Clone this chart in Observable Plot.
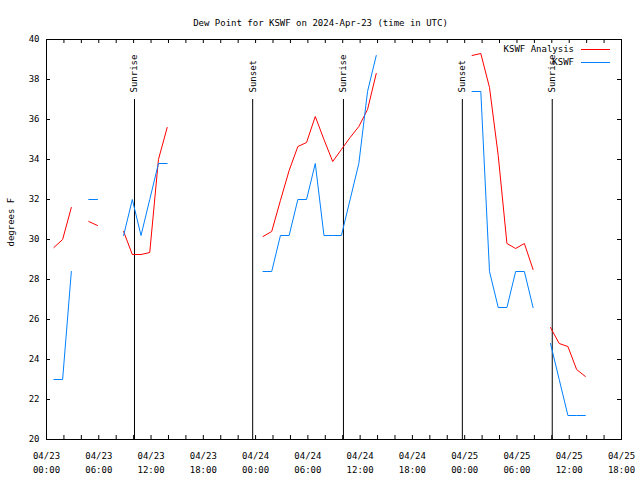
<!DOCTYPE html>
<html><head><meta charset="utf-8">
<script src="https://cdn.jsdelivr.net/npm/d3@7"></script>
<script src="https://cdn.jsdelivr.net/npm/@observablehq/plot@0.6"></script>
<style>
body{margin:0;background:#fff;}
#wrap{position:relative;width:640px;height:480px;font-family:"DejaVu Sans Mono",monospace;font-size:9px;color:#000;}
.legtext{position:absolute;right:66px;height:13px;line-height:13px;white-space:pre;}
.legline{position:absolute;left:581px;width:29px;height:0;}
</style></head><body><div id="wrap"></div>
<script>
const title = "Dew Point for KSWF on 2024-Apr-23 (time in UTC)";
const yLabel = "degrees F";
const seriesNames = ["KSWF Analysis", "KSWF"];
const seriesColors = ["#ff0000", "#0080ff"];

const obsTimes = [
 "2024-04-23T00:51Z","2024-04-23T01:51Z","2024-04-23T02:51Z","2024-04-23T03:51Z","2024-04-23T04:51Z","2024-04-23T05:51Z",
 "2024-04-23T06:51Z","2024-04-23T07:51Z","2024-04-23T08:51Z","2024-04-23T09:51Z","2024-04-23T10:51Z","2024-04-23T11:51Z",
 "2024-04-23T12:51Z","2024-04-23T13:51Z","2024-04-23T14:51Z","2024-04-23T15:51Z","2024-04-23T16:51Z","2024-04-23T17:51Z",
 "2024-04-23T18:51Z","2024-04-23T19:51Z","2024-04-23T20:51Z","2024-04-23T21:51Z","2024-04-23T22:51Z","2024-04-23T23:51Z",
 "2024-04-24T00:51Z","2024-04-24T01:51Z","2024-04-24T02:51Z","2024-04-24T03:51Z","2024-04-24T04:51Z","2024-04-24T05:51Z",
 "2024-04-24T06:51Z","2024-04-24T07:51Z","2024-04-24T08:51Z","2024-04-24T09:51Z","2024-04-24T10:51Z","2024-04-24T11:51Z",
 "2024-04-24T12:51Z","2024-04-24T13:51Z","2024-04-24T14:51Z","2024-04-24T15:51Z","2024-04-24T16:51Z","2024-04-24T17:51Z",
 "2024-04-24T18:51Z","2024-04-24T19:51Z","2024-04-24T20:51Z","2024-04-24T21:51Z","2024-04-24T22:51Z","2024-04-24T23:51Z",
 "2024-04-25T00:51Z","2024-04-25T01:51Z","2024-04-25T02:51Z","2024-04-25T03:51Z","2024-04-25T04:51Z","2024-04-25T05:51Z",
 "2024-04-25T06:51Z","2024-04-25T07:51Z","2024-04-25T08:51Z","2024-04-25T09:51Z","2024-04-25T10:51Z","2024-04-25T11:51Z",
 "2024-04-25T12:51Z","2024-04-25T13:51Z"
];
const analysis = [
 29.6, 30.0, 31.6, null, 30.9, 30.7, null, null, 30.4, 29.25, 29.25, 29.35,
 34.0, 35.6, null, null, null, null, null, null, null, null, null, null,
 30.15, 30.4, 31.95, 33.45, 34.65, 34.85, 36.15, 35.0, 33.9, 34.5, 35.1, 35.65,
 36.5, 38.3, null, null, null, null, null, null, null, null, null, null,
 39.2, 39.3, 37.6, 34.2, 29.8, 29.55, 29.8, 28.5, null, 25.6, 24.8, 24.65,
 23.5, 23.15
];
const observed = [
 23.0, 23.0, 28.4, null, 32.0, 32.0, null, null, 30.2, 32.0, 30.2, 32.0,
 33.8, 33.8, null, null, null, null, null, null, null, null, null, null,
 28.4, 28.4, 30.2, 30.2, 32.0, 32.0, 33.8, 30.2, 30.2, 30.2, 32.0, 33.8,
 37.4, 39.2, null, null, null, null, null, null, null, null, null, null,
 37.4, 37.4, 28.4, 26.6, 26.6, 28.4, 28.4, 26.6, null, 24.8, 23.0, 21.2,
 21.2, 21.2
];
const sunTimes = ["2024-04-23T10:06Z","2024-04-23T23:40Z","2024-04-24T10:05Z","2024-04-24T23:44Z","2024-04-25T10:03Z"];
const sunLabels = ["Sunrise","Sunset","Sunrise","Sunset","Sunrise"];
const xTickTimes = ["2024-04-23T00:00Z","2024-04-23T06:00Z","2024-04-23T12:00Z","2024-04-23T18:00Z",
 "2024-04-24T00:00Z","2024-04-24T06:00Z","2024-04-24T12:00Z","2024-04-24T18:00Z",
 "2024-04-25T00:00Z","2024-04-25T06:00Z","2024-04-25T12:00Z","2024-04-25T18:00Z"];
const xTickLabels = ["04/23\n00:00","04/23\n06:00","04/23\n12:00","04/23\n18:00",
 "04/24\n00:00","04/24\n06:00","04/24\n12:00","04/24\n18:00",
 "04/25\n00:00","04/25\n06:00","04/25\n12:00","04/25\n18:00"];
const yTicks = [20, 22, 24, 26, 28, 30, 32, 34, 36, 38, 40];
const xDomain = ["2024-04-23T00:00Z", "2024-04-25T18:00Z"];
const yDomain = [20, 40];

const dates = obsTimes.map(s => new Date(s));
const idx = obsTimes.map((_, i) => i);
const tickDates = xTickTimes.map(s => new Date(s));
const labelMap = new Map(tickDates.map((d, i) => [+d, xTickLabels[i]]));
const sunData = sunTimes.map((t, i) => ({t: new Date(t), label: sunLabels[i]}));
const xDom = xDomain.map(s => new Date(s));
const minorTicks = d3.utcHour.every(2).range(xDom[0], new Date(+xDom[1] + 1));

const W = 640, H = 480, ML = 46, MR = 19, MT = 39, MB = 41, TL = 4;
const FW = W - ML - MR, FH = H - MT - MB;

const chart = Plot.plot({
  width: W, height: H,
  marginLeft: ML, marginRight: MR, marginTop: MT, marginBottom: MB,
  style: {fontFamily: "DejaVu Sans Mono, monospace", fontSize: "9px", background: "#fff", color: "#000"},
  x: {type: "utc", domain: xDom},
  y: {domain: yDomain},
  marks: [
    Plot.axisY(yTicks, {anchor: "left", tickSize: 0, tickPadding: 7, label: null}),
    Plot.axisX(tickDates, {anchor: "bottom", tickSize: 0, tickPadding: 10, lineHeight: 1.55, tickFormat: d => labelMap.get(+d), label: null}),
    Plot.ruleX(minorTicks, {x: d => d, insetTop: FH - TL, stroke: "#000"}),
    Plot.ruleX(minorTicks, {x: d => d, insetBottom: FH - TL, stroke: "#000"}),
    Plot.ruleY(yTicks, {y: d => d, insetRight: FW - TL, stroke: "#000"}),
    Plot.ruleY(yTicks, {y: d => d, insetLeft: FW - TL, stroke: "#000"}),
    Plot.ruleX(sunData, {x: "t", insetTop: 60, stroke: "#000"}),
    Plot.text(sunData, {x: "t", text: "label", frameAnchor: "top", rotate: -90, textAnchor: "start", lineAnchor: "middle", dy: 53}),
    Plot.line(idx, {x: i => dates[i], y: i => analysis[i], stroke: seriesColors[0], strokeWidth: 1}),
    Plot.line(idx, {x: i => dates[i], y: i => observed[i], stroke: seriesColors[1], strokeWidth: 1}),
    Plot.frame({stroke: "#000"}),
    Plot.text([title], {frameAnchor: "top", dy: -19.5, dx: -13.5}),
    Plot.text([yLabel], {frameAnchor: "left", rotate: -90, dx: -35, dy: 7})
  ]
});
const wrap = document.getElementById("wrap");
wrap.appendChild(chart);
const legY = [49.5, 62.5];
seriesNames.forEach((name, i) => {
  const t = document.createElement("div");
  t.className = "legtext"; t.textContent = name; t.style.top = (legY[i] - 6.5) + "px";
  wrap.appendChild(t);
  const l = document.createElement("div");
  l.className = "legline"; l.style.top = Math.floor(legY[i]) + "px"; l.style.borderTop = "1px solid " + seriesColors[i];
  wrap.appendChild(l);
});
</script></body></html>
